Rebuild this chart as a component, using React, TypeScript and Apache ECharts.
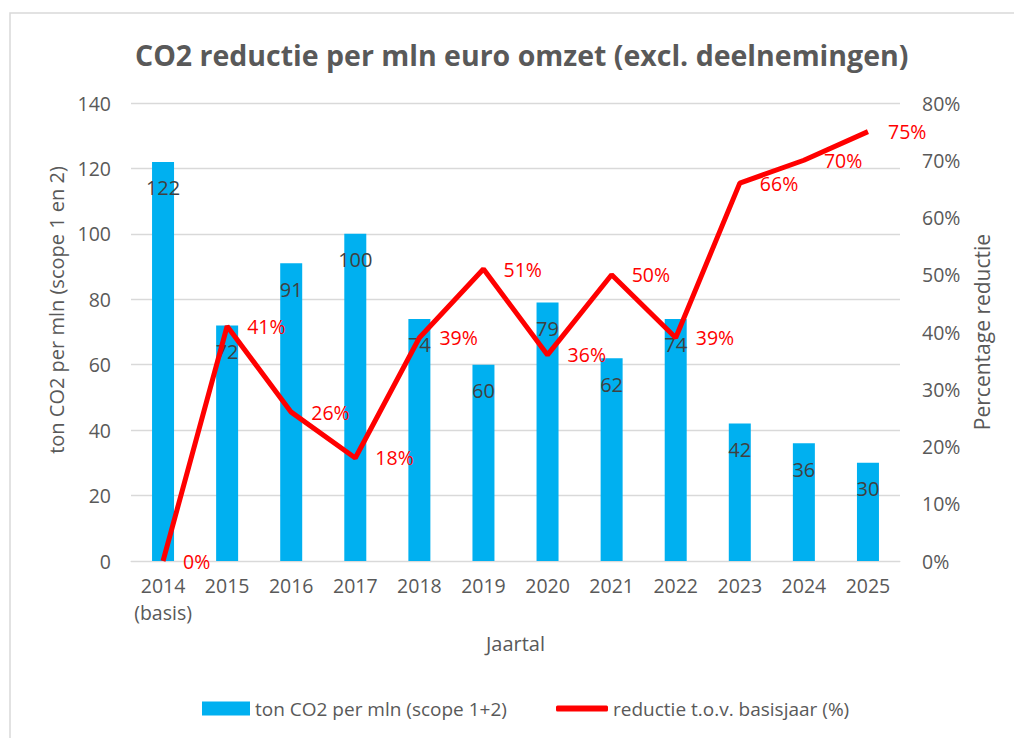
import React, { useEffect, useRef } from "react";
import * as echarts from "echarts";

const categories = ["2014\n(basis)", "2015", "2016", "2017", "2018", "2019", "2020", "2021", "2022", "2023", "2024", "2025"];
const tonCO2 = [122, 72, 91, 100, 74, 60, 79, 62, 74, 42, 36, 30];
const reductie = [0, 41, 26, 18, 39, 51, 36, 50, 39, 66, 70, 75];
const leftTicks = { min: 0, max: 140, interval: 20 };
const rightTicks = { min: 0, max: 80, interval: 10 };
const barName = "ton CO2 per mln (scope 1+2)";
const lineName = "reductie t.o.v. basisjaar (%)";

const FONT = "'Open Sans', 'Noto Sans', sans-serif";
const GREY = "#595959";

export default function App() {
  const ref = useRef<HTMLDivElement>(null);
  useEffect(() => {
    if (!ref.current) return;
    const chart = echarts.init(ref.current, null, { renderer: "svg" });
    chart.setOption({
      animation: false,
      textStyle: { fontFamily: FONT },
      title: {
        text: "CO2 reductie per mln euro omzet (excl. deelnemingen)",
        left: 130,
        top: 35,
        textStyle: { fontFamily: FONT, fontSize: 28.5, fontWeight: "bold", color: GREY },
      },
      graphic: [
        {
          type: "rect",
          shape: { x: 10, y: 13, width: 1100, height: 800 },
          style: { fill: "none", stroke: "#D9D9D9", lineWidth: 1.5 },
          silent: true,
        },
      ],
      legend: [
        {
          left: 197,
          top: 694,
          itemWidth: 48,
          itemHeight: 14,
          textStyle: { fontFamily: FONT, fontSize: 19, color: GREY },
          data: [{ name: barName, icon: "rect" }],
        },
        {
          left: 551,
          top: 694,
          itemWidth: 52,
          itemHeight: 6,
          textStyle: { fontFamily: FONT, fontSize: 19, color: GREY },
          data: [{ name: lineName, icon: "roundRect" }],
        },
      ],
      grid: { left: 131, right: 114, top: 103, bottom: 177 },
      xAxis: {
        type: "category",
        data: categories,
        name: "Jaartal",
        nameLocation: "middle",
        nameGap: 72,
        nameTextStyle: { fontFamily: FONT, fontSize: 20, color: GREY },
        axisLine: { lineStyle: { color: "#D9D9D9", width: 1 } },
        axisTick: { show: false },
        axisLabel: { interval: 0, fontFamily: FONT, fontSize: 19.5, color: GREY, margin: 11, lineHeight: 27 },
      },
      yAxis: [
        {
          type: "value",
          min: leftTicks.min,
          max: leftTicks.max,
          interval: leftTicks.interval,
          name: "ton CO2 per mln (scope 1 en 2)",
          nameLocation: "middle",
          nameRotate: 90,
          nameGap: 60,
          nameTextStyle: { fontFamily: FONT, fontSize: 20, color: GREY, padding: [0, 0, 0, 44] },
          axisLine: { show: false },
          axisTick: { show: false },
          axisLabel: { fontFamily: FONT, fontSize: 19.5, color: GREY, margin: 20 },
          splitLine: { lineStyle: { color: "#D9D9D9", width: 1.3 } },
        },
        {
          type: "value",
          min: rightTicks.min,
          max: rightTicks.max,
          interval: rightTicks.interval,
          position: "right",
          name: "Percentage reductie",
          nameLocation: "middle",
          nameRotate: 90,
          nameGap: 70,
          nameTextStyle: { fontFamily: FONT, fontSize: 21, color: GREY },
          axisLine: { show: false },
          axisTick: { show: false },
          axisLabel: { fontFamily: FONT, fontSize: 19.5, color: GREY, margin: 22, formatter: "{value}%" },
          splitLine: { show: false },
        },
      ],
      series: [
        {
          name: barName,
          type: "bar",
          data: tonCO2,
          barWidth: 22,
          itemStyle: { color: "#00B0F0" },
          label: {
            show: true,
            position: "insideTop",
            distance: 16,
            fontFamily: FONT,
            fontSize: 20,
            color: "#404040",
          },
        },
        {
          name: lineName,
          type: "line",
          yAxisIndex: 1,
          data: reductie,
          symbol: "circle",
          symbolSize: 0.1,
          showSymbol: true,
          lineStyle: { color: "#FF0000", width: 5 },
          itemStyle: { color: "#FF0000" },
          label: {
            show: true,
            position: "right",
            distance: 20,
            fontFamily: FONT,
            fontSize: 19.5,
            color: "#FF0000",
            formatter: "{c}%",
          },
        },
      ],
    });
    return () => chart.dispose();
  }, []);
  return <div ref={ref} style={{ position: "absolute", left: 0, top: 0, width: 1014, height: 738 }} />;
}
